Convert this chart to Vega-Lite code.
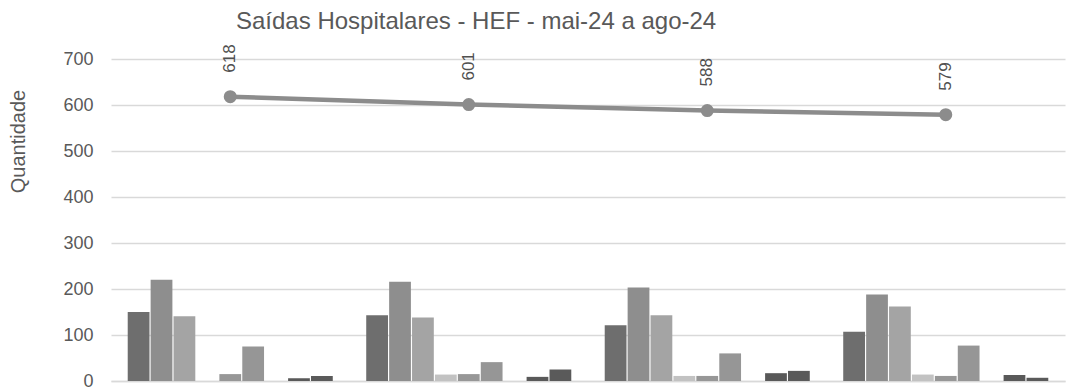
{
  "$schema": "https://vega.github.io/schema/vega-lite/v6.json",
  "width": 954,
  "height": 322,
  "autosize": {"type": "none"},
  "padding": {"left": 111, "top": 59, "right": 7, "bottom": 9},
  "background": "white",
  "config": {"view": {"stroke": null}, "font": "Liberation Sans"},
  "title": {
    "text": "Saídas Hospitalares - HEF - mai-24 a ago-24",
    "anchor": "start",
    "frame": "group",
    "dx": 125,
    "dy": -6,
    "fontSize": 24,
    "font": "Liberation Sans",
    "fontWeight": "normal",
    "color": "#595959"
  },
  "datasets": {
    "bars": [
      {"mes": "mai-24", "serie": "s1", "valor": 150},
      {"mes": "mai-24", "serie": "s2", "valor": 220},
      {"mes": "mai-24", "serie": "s3", "valor": 141},
      {"mes": "mai-24", "serie": "s5", "valor": 15},
      {"mes": "mai-24", "serie": "s6", "valor": 75},
      {"mes": "mai-24", "serie": "s8", "valor": 6},
      {"mes": "mai-24", "serie": "s9", "valor": 11},
      {"mes": "jun-24", "serie": "s1", "valor": 143},
      {"mes": "jun-24", "serie": "s2", "valor": 216},
      {"mes": "jun-24", "serie": "s3", "valor": 138},
      {"mes": "jun-24", "serie": "s4", "valor": 14},
      {"mes": "jun-24", "serie": "s5", "valor": 15},
      {"mes": "jun-24", "serie": "s6", "valor": 41},
      {"mes": "jun-24", "serie": "s8", "valor": 9},
      {"mes": "jun-24", "serie": "s9", "valor": 25},
      {"mes": "jul-24", "serie": "s1", "valor": 121},
      {"mes": "jul-24", "serie": "s2", "valor": 203},
      {"mes": "jul-24", "serie": "s3", "valor": 143},
      {"mes": "jul-24", "serie": "s4", "valor": 11},
      {"mes": "jul-24", "serie": "s5", "valor": 11},
      {"mes": "jul-24", "serie": "s6", "valor": 60},
      {"mes": "jul-24", "serie": "s8", "valor": 17},
      {"mes": "jul-24", "serie": "s9", "valor": 22},
      {"mes": "ago-24", "serie": "s1", "valor": 107},
      {"mes": "ago-24", "serie": "s2", "valor": 188},
      {"mes": "ago-24", "serie": "s3", "valor": 162},
      {"mes": "ago-24", "serie": "s4", "valor": 14},
      {"mes": "ago-24", "serie": "s5", "valor": 11},
      {"mes": "ago-24", "serie": "s6", "valor": 77},
      {"mes": "ago-24", "serie": "s8", "valor": 13},
      {"mes": "ago-24", "serie": "s9", "valor": 7}
    ],
    "totais": [
      {"mes": "mai-24", "total": 618},
      {"mes": "jun-24", "total": 601},
      {"mes": "jul-24", "total": 588},
      {"mes": "ago-24", "total": 579}
    ]
  },
  "encoding": {
    "x": {
      "field": "mes",
      "type": "nominal",
      "sort": ["mai-24", "jun-24", "jul-24", "ago-24"],
      "scale": {"domain": ["mai-24", "jun-24", "jul-24", "ago-24"], "paddingInner": 0, "paddingOuter": 0},
      "axis": {"labels": false, "ticks": false, "title": null, "domainColor": "#d9d9d9", "domainWidth": 1.5, "grid": false}
    }
  },
  "layer": [
    {
      "data": {"name": "bars"},
      "mark": {"type": "bar"},
      "encoding": {
        "xOffset": {
          "field": "serie",
          "type": "nominal",
          "scale": {"domain": ["s1", "s2", "s3", "s4", "s5", "s6", "s7", "s8", "s9"], "paddingInner": 0.05, "paddingOuter": 0.73}
        },
        "y": {
          "field": "valor",
          "type": "quantitative",
          "scale": {"domain": [0, 700], "nice": false},
          "axis": {
            "values": [0, 100, 200, 300, 400, 500, 600, 700],
            "title": "Quantidade",
            "titleFontSize": 20,
            "titleFontWeight": "normal",
            "titleColor": "#595959",
            "titleX": -93,
            "titleY": 82,
            "titleAngle": -90,
            "titleAlign": "center",
            "titleBaseline": "middle",
            "labelFontSize": 18,
            "labelColor": "#595959",
            "labelPadding": 18,
            "ticks": false,
            "domain": false,
            "gridColor": "#d9d9d9",
            "gridWidth": 1.3
          }
        },
        "color": {
          "field": "serie",
          "type": "nominal",
          "legend": null,
          "scale": {
            "domain": ["s1", "s2", "s3", "s4", "s5", "s6", "s7", "s8", "s9"],
            "range": ["#6e6e6e", "#8e8e8e", "#a4a4a4", "#c2c2c2", "#979797", "#969696", "#7a7a7a", "#595959", "#5a5a5a"]
          }
        }
      }
    },
    {
      "data": {"name": "totais"},
      "mark": {"type": "line", "color": "#8c8c8c", "strokeWidth": 4.5},
      "encoding": {"y": {"field": "total", "type": "quantitative"}}
    },
    {
      "data": {"name": "totais"},
      "mark": {"type": "point", "filled": true, "size": 170, "color": "#8c8c8c", "opacity": 1},
      "encoding": {"y": {"field": "total", "type": "quantitative"}}
    },
    {
      "data": {"name": "totais"},
      "mark": {"type": "text", "angle": 270, "align": "left", "baseline": "middle", "yOffset": -24, "fontSize": 17, "color": "#505050"},
      "encoding": {"y": {"field": "total", "type": "quantitative"}, "text": {"field": "total", "type": "quantitative"}}
    }
  ]
}
